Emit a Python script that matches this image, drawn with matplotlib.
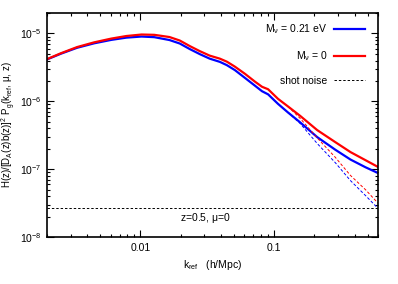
import matplotlib
matplotlib.use("Agg")
import matplotlib.pyplot as plt
import matplotlib.ticker as mticker
import numpy as np

plt.rcParams['font.family'] = ['Liberation Sans', 'DejaVu Sans']
plt.rcParams['mathtext.default'] = 'regular'

# k_ref values (h/Mpc)
k = [0.00196, 0.00255, 0.00336, 0.00451, 0.00605, 0.00785, 0.0102, 0.0127,
     0.0165, 0.0197, 0.0234, 0.0278, 0.0330, 0.0393, 0.0443, 0.0509, 0.0605,
     0.0720, 0.0813, 0.0902, 0.107, 0.127, 0.157, 0.210, 0.287, 0.373,
     0.483, 0.605]

# M_nu = 0
p_massless = [4.12e-6, 5.13e-6, 6.31e-6, 7.41e-6, 8.41e-6, 9.18e-6, 9.66e-6,
              9.56e-6, 8.87e-6, 7.88e-6, 6.53e-6, 5.50e-6, 4.72e-6, 4.26e-6,
              3.85e-6, 3.25e-6, 2.55e-6, 1.95e-6, 1.64e-6, 1.51e-6, 1.09e-6,
              8.43e-7, 6.10e-7, 3.78e-7, 2.51e-7, 1.79e-7, 1.36e-7, 1.07e-7]

# M_nu = 0.21 eV
p_massive = [4.08e-6, 5.05e-6, 6.16e-6, 7.17e-6, 8.05e-6, 8.69e-6, 9.02e-6,
             8.83e-6, 8.01e-6, 7.12e-6, 5.90e-6, 4.97e-6, 4.26e-6, 3.82e-6,
             3.42e-6, 2.89e-6, 2.22e-6, 1.70e-6, 1.41e-6, 1.27e-6, 9.19e-7,
             6.87e-7, 4.89e-7, 2.98e-7, 1.94e-7, 1.39e-7, 1.07e-7, 8.72e-8]

# dashed branches at high k
k_dash = [0.127, 0.157, 0.210, 0.287, 0.373, 0.483, 0.605]
p_massless_dash = [8.4e-7, 5.6e-7, 2.9e-7, 1.5e-7, 8.1e-8, 5.0e-8, 3.1e-8]
p_massive_dash = [6.9e-7, 4.7e-7, 2.4e-7, 1.25e-7, 6.8e-8, 4.1e-8, 2.6e-8]

shot_noise = 2.7e-8

fig = plt.figure(figsize=(3.98, 2.84), dpi=100)
ax = fig.add_axes([0.118, 0.165, 0.832, 0.789])

ax.plot(k, p_massive, color='#0000ff', lw=1.6, label=r'M$_\nu$ = 0.21 eV')
ax.plot(k, p_massless, color='#ff0000', lw=1.6, label=r'M$_\nu$ = 0')
ax.plot(k_dash, p_massless_dash, color='#ff0000', lw=0.7, ls=(0, (3, 2)))
ax.plot(k_dash, p_massive_dash, color='#0000ff', lw=0.7, ls=(0, (3, 2)))
ax.axhline(shot_noise, color='black', lw=0.7, ls=(0, (2.5, 2)), label='shot noise')

ax.set_xscale('log')
ax.set_yscale('log')
ax.set_xlim(0.002, 0.6)
ax.set_ylim(1e-8, 2e-5)

ax.xaxis.set_major_locator(mticker.FixedLocator([0.01, 0.1]))
ax.xaxis.set_major_formatter(mticker.FixedFormatter(['0.01', '0.1']))
ax.xaxis.set_minor_locator(mticker.LogLocator(base=10, subs=np.arange(2, 10)))
ax.xaxis.set_minor_formatter(mticker.NullFormatter())

ax.tick_params(which='both', direction='in', top=True, right=True,
               labelsize=7.5, width=0.8, colors='black')
ax.tick_params(which='major', length=5, pad=4)
ax.tick_params(which='minor', length=2.5)
for s in ax.spines.values():
    s.set_linewidth(1.2)

ax.set_xlabel(r'k$_{ref}$   (h/Mpc)', fontsize=7.5, labelpad=4)
ax.set_ylabel(r'H(z)/[D$_A$(z)b(z)]$^2$ P$_g$(k$_{ref}$, $\mu$, z)',
              fontsize=7, labelpad=1)

ax.text(0.477, 0.085, r'z=0.5, $\mu$=0', transform=ax.transAxes,
        ha='center', va='center', fontsize=7.5)

ax.legend(loc='upper right', bbox_to_anchor=(0.973, 0.977), frameon=False,
          markerfirst=False, fontsize=7.5, handlelength=3.0,
          handletextpad=0.6, labelspacing=1.25, borderaxespad=0)

fig.savefig('out.png', dpi=100)
